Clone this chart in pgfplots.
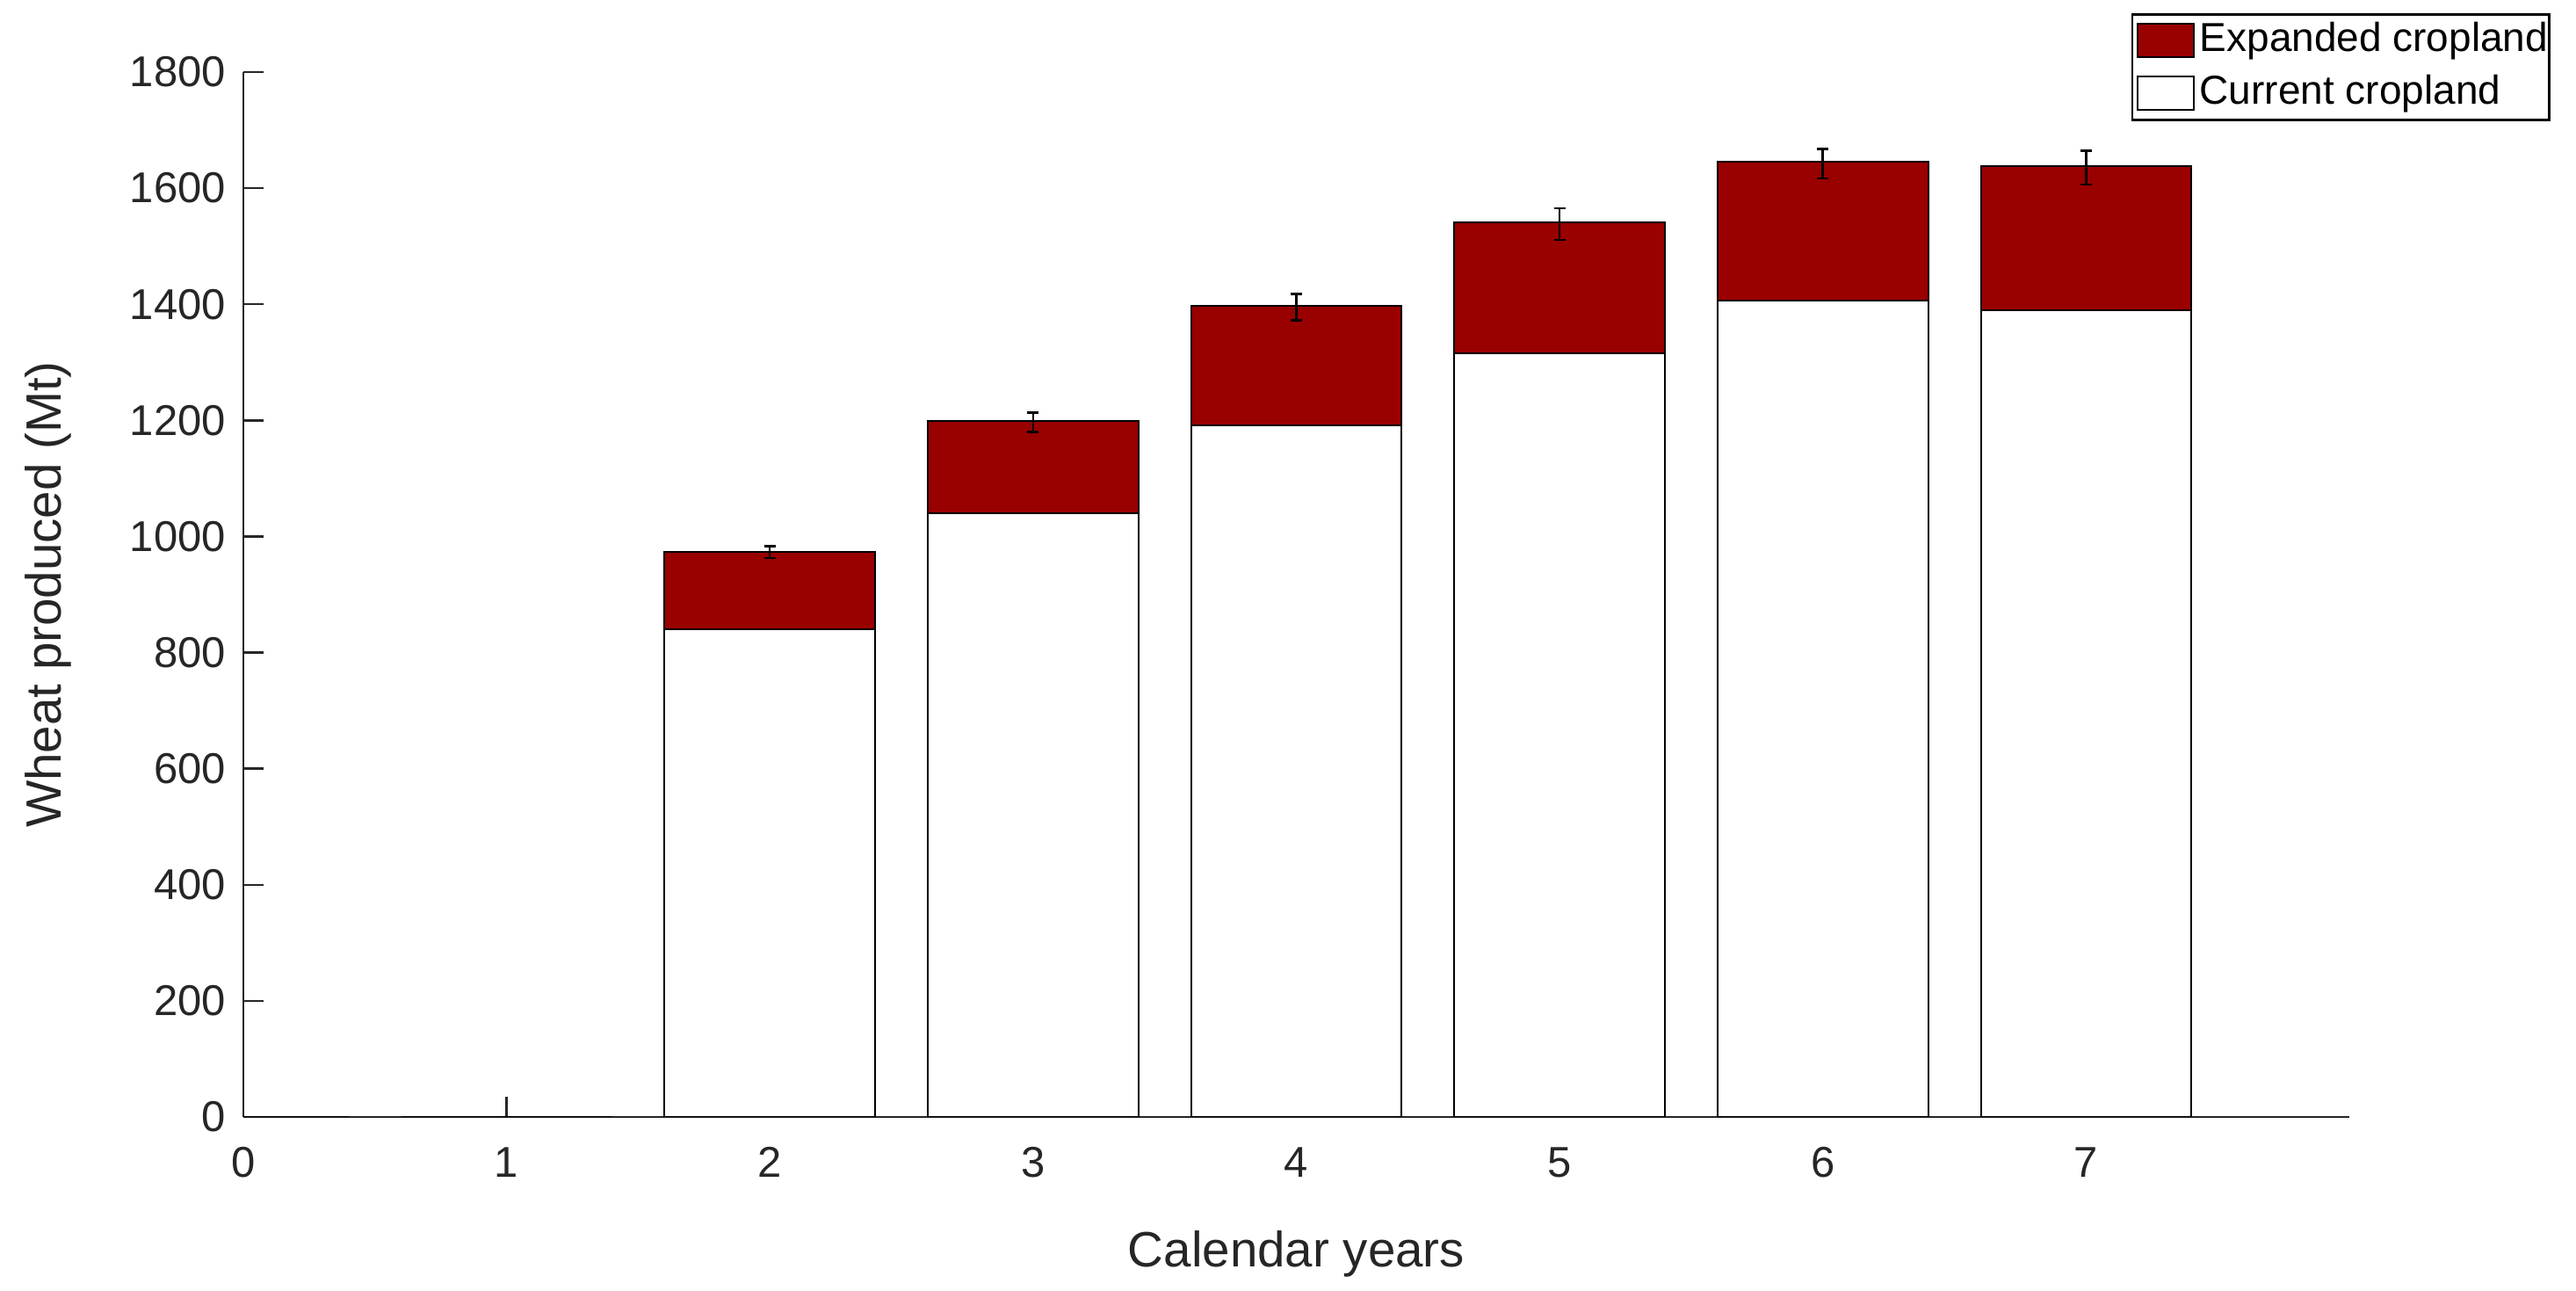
\documentclass[border=0pt]{standalone}
\usepackage{fontspec}
\setmainfont{Liberation Sans}
\usepackage{pgfplots}
\pgfplotsset{compat=1.18}
\definecolor{barred}{RGB}{153,0,0}
\definecolor{axgray}{RGB}{38,38,38}
\begin{document}
\begin{tikzpicture}
\useasboundingbox (-55.4pt,-39.6pt) rectangle (531pt,254.2pt);
\begin{axis}[
  at={(0pt,0pt)}, anchor=south west,
  scale only axis, width=479.4pt, height=237.8pt,
  xmin=0, xmax=8, ymin=0, ymax=1800,
  xtick={0,...,7}, ytick={0,200,...,1800},
  axis lines*=left,
  axis line style={axgray, line width=0.5pt},
  tick style={axgray, line width=0.5pt},
  tick align=inside, major tick length=4.5pt,
  /pgf/number format/assume math mode=true,
  /pgf/number format/1000 sep={},
  tick label style={font=\fontsize{9.8}{11}\selectfont, text=axgray},
  xticklabel style={anchor=base, inner sep=0pt, yshift=-13.8pt},
  yticklabel style={anchor=east, inner sep=0pt, xshift=-3.8pt},
  xlabel={Calendar years},
  ylabel={Wheat produced (Mt)},
  every axis x label/.style={at={(axis description cs:0.5,-0.1438)}, anchor=base,
    font=\fontsize{11.3}{13}\selectfont, text=axgray},
  every axis y label/.style={at={(axis description cs:-0.0864,0.5)}, rotate=90, anchor=base,
    font=\fontsize{11.3}{13}\selectfont, text=axgray},
  legend style={at={(axis description cs:1.0955,1.0563)}, anchor=north east,
    draw=black, line width=0.5pt, inner sep=0pt, row sep=0pt,
    font=\fontsize{9.2}{11}\selectfont,
    nodes={inner xsep=0.3pt, inner ysep=1.5pt, text height=7pt, text depth=2pt},
    cells={anchor=west},
    /tikz/every even column/.style={column sep=0pt}},
  legend image code/.code={\path[draw=none, fill=none] (0pt,-6pt) rectangle (15.1pt,6pt);
    \draw[#1, line width=0.4pt] (1.2pt,-3.8pt) rectangle (14pt,3.8pt);},
]
% total production (current + expanded), with error bars
\addplot[ybar, bar width=0.8, bar shift=0pt, fill=barred, draw=black, line width=0.4pt, forget plot,
  error bars/.cd, y dir=both, y explicit,
  error bar style={black, line width=0.5pt},
  error mark options={black, mark size=1.3pt, line width=0.5pt, rotate=90}]
coordinates {
  (0,0) += (0,0) -= (0,0)
  (1,0) += (0,0) -= (0,0)
  (2,974) += (0,9.5) -= (0,11.5)
  (3,1199) += (0,14.5) -= (0,19)
  (4,1397) += (0,21) -= (0,25)
  (5,1541) += (0,24) -= (0,30)
  (6,1646) += (0,21.5) -= (0,29.5)
  (7,1638) += (0,26.5) -= (0,32)
};
% current cropland
\addplot[ybar, bar width=0.8, bar shift=0pt, fill=white, draw=black, line width=0.4pt, forget plot]
coordinates {(0,0) (1,0) (2,840) (3,1040) (4,1192) (5,1316) (6,1406) (7,1389)};
\addlegendimage{fill=barred, draw=black}
\addlegendentry{Expanded cropland}
\addlegendimage{fill=white, draw=black}
\addlegendentry{Current cropland}
\end{axis}
\end{tikzpicture}
\end{document}
